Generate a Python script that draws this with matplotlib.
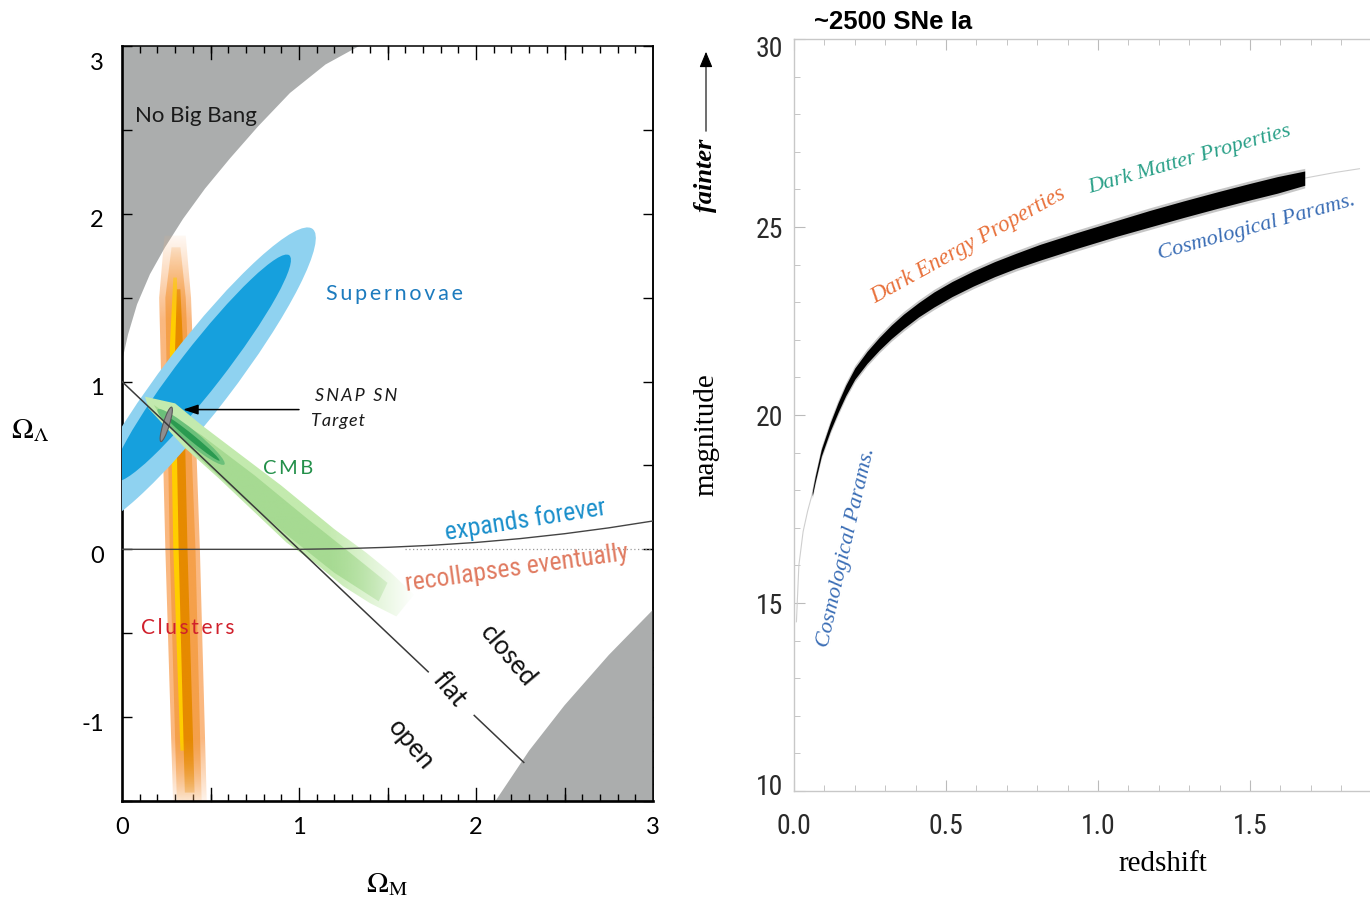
import numpy as np
import matplotlib
matplotlib.use("Agg")
import matplotlib.pyplot as plt
from matplotlib.patches import Ellipse, Polygon, FancyArrowPatch
from matplotlib.ticker import MultipleLocator, FixedLocator, FormatStrFormatter
from matplotlib.transforms import ScaledTranslation
from matplotlib import font_manager as fm
from matplotlib.colors import to_rgb

_names = {f.name for f in fm.fontManager.ttflist}
def pick(*c):
    for n in c:
        if n in _names:
            return n
    return "DejaVu Sans"

SANS = pick("Lato", "Open Sans", "Noto Sans")
NARROW = pick("Liberation Sans Narrow", "Roboto Condensed", "Liberation Sans")
ARIAL = pick("Liberation Sans")
SERIF = pick("Liberation Serif", "DejaVu Serif")
NS = 1.0 if NARROW in ("Liberation Sans Narrow", "Roboto Condensed") else 0.84
plt.rcParams["mathtext.fontset"] = "stix"

# ------------------------------------------------------------------ data
# Left panel (Omega_M, Omega_Lambda plane)
nobigbang_om = [0.00, 0.034, 0.085, 0.158, 0.243, 0.345, 0.469, 0.61, 0.768, 0.949, 1.15, 1.34]
nobigbang_ol = [1.12, 1.28, 1.46, 1.64, 1.80, 1.97, 2.15, 2.33, 2.52, 2.72, 2.89, 3.00]
bounce_om = [2.11, 2.30, 2.50, 2.75, 3.00]
bounce_ol = [-1.50, -1.20, -0.93, -0.63, -0.36]
flat_om_a, flat_ol_a = [0.00, 1.73], [1.00, -0.73]
flat_om_b, flat_ol_b = [1.99, 2.27], [-0.99, -1.27]
expand_om = [0.0, 1.0, 1.25, 1.5, 1.75, 2.0, 2.25, 2.5, 2.75, 3.0]
expand_ol = [0.0, 0.0, 0.004, 0.012, 0.024, 0.041, 0.064, 0.093, 0.128, 0.169]

# Clusters band polygons (Omega_M, Omega_Lambda)
cl_outer_om = [0.29, 0.245, 0.21, 0.24, 0.36, 0.39, 0.44, 0.48]
cl_outer_ol = [-1.55, 0.0, 1.5, 1.87, 1.87, 1.5, 0.0, -1.55]
cl_mid_om = [0.31, 0.27, 0.245, 0.28, 0.33, 0.36, 0.415, 0.45]
cl_mid_ol = [-1.5, 0.0, 1.5, 1.8, 1.8, 1.5, 0.0, -1.5]
cl_yel_om = [0.33, 0.29, 0.27, 0.29, 0.31, 0.32, 0.335, 0.36]
cl_yel_ol = [-1.2, 0.0, 1.2, 1.62, 1.62, 1.2, 0.0, -1.2]
cl_core_om = [0.355, 0.32, 0.30, 0.31, 0.33, 0.345, 0.37, 0.41]
cl_core_ol = [-1.45, 0.0, 1.2, 1.55, 1.55, 1.2, 0.0, -1.45]

# Supernovae confidence ellipses: (centre_om, centre_ol, width, height, angle)
sn_outer = (0.43, 1.02, 2.20, 0.40, 54.1)
sn_inner = (0.45, 1.08, 1.67, 0.25, 53.7)

# CMB band
cmb_outer_om = [0.13, 0.30, 0.45, 0.60, 0.75, 0.90, 1.05, 1.20, 1.38, 1.52, 1.65,
                1.55, 1.40, 1.25, 1.10, 0.93, 0.75, 0.55, 0.35, 0.15]
cmb_outer_ol = [0.91, 0.87, 0.74, 0.62, 0.50, 0.38, 0.25, 0.12, -0.02, -0.14, -0.27,
                -0.40, -0.32, -0.22, -0.09, 0.04, 0.22, 0.42, 0.61, 0.84]
cmb_mid_om = [0.18, 0.45, 0.75, 1.05, 1.30, 1.50, 1.45, 1.20, 0.95, 0.70, 0.45, 0.22]
cmb_mid_ol = [0.86, 0.68, 0.44, 0.18, -0.03, -0.20, -0.31, -0.14, 0.07, 0.29, 0.53, 0.79]
cmb_inner = (0.40, 0.66, 0.40, 0.035, -41.0)
cmb_inner2 = (0.39, 0.67, 0.50, 0.08, -41.0)

snap = (0.25, 0.745, 0.214, 0.036, 73.7)
snap_arrow_start = (1.00, 0.833)
snap_arrow_end = (0.345, 0.833)

# Right panel (Hubble diagram)
z_band = [0.06, 0.07, 0.09, 0.12, 0.145, 0.17, 0.20, 0.24, 0.28, 0.32, 0.36, 0.41, 0.46,
          0.52, 0.59, 0.66, 0.73, 0.81, 0.93, 1.06, 1.17, 1.28, 1.39, 1.50, 1.59, 1.68]
m_band = [17.9, 18.3, 19.0, 19.7, 20.2, 20.65, 21.1, 21.53, 21.89, 22.21, 22.49, 22.8, 23.07,
          23.35, 23.63, 23.88, 24.1, 24.33, 24.64, 24.96, 25.22, 25.47, 25.71, 25.94, 26.12, 26.3]
hw_band = [0.05, 0.07, 0.09, 0.11, 0.13, 0.14, 0.15, 0.16, 0.17, 0.18, 0.19, 0.19, 0.20,
           0.20, 0.20, 0.20, 0.20, 0.21, 0.21, 0.21, 0.22, 0.22, 0.22, 0.22, 0.22, 0.19]
z_model_lo = [0.008, 0.016, 0.03, 0.045, 0.06]
m_model_lo = [14.5, 16.0, 16.9, 17.45, 17.9]
z_model_hi = [1.68, 1.78, 1.86]
m_model_hi = [26.3, 26.45, 26.55]

left_xticks = [0, 1, 2, 3]
left_yticks = [-1, 0, 1, 2, 3]
right_xticks = [0.0, 0.5, 1.0, 1.5]
right_yticks = [10, 15, 20, 25, 30]

# ------------------------------------------------------------------ figure
W, H = 1370, 903
fig = plt.figure(figsize=(W / 100, H / 100), dpi=100)
fig.patch.set_facecolor("white")

def px_axes(x0, y_top, x1, y_bot):
    return fig.add_axes([x0 / W, 1 - y_bot / H, (x1 - x0) / W, (y_bot - y_top) / H])

def shift(artist, dx_px, dy_px):
    artist.set_transform(artist.get_transform() +
                         ScaledTranslation(dx_px / 100, dy_px / 100, fig.dpi_scale_trans))

ax = px_axes(122, 47, 653, 802)
ax.set_xlim(0, 3)
ax.set_ylim(-1.5, 3)

GRAY = "#ABADAD"
ax.fill(nobigbang_om + [0.0], nobigbang_ol + [3.0], color=GRAY, lw=0, zorder=1)
ax.fill(bounce_om + [3.0], bounce_ol + [-1.5], color=GRAY, lw=0, zorder=1)


def grad_poly(xs, ys, color, alpha_fn, extent, zorder):
    poly = Polygon(np.column_stack([xs, ys]), closed=True, facecolor="none",
                   edgecolor="none", transform=ax.transData)
    ax.add_patch(poly)
    nx, ny = 200, 300
    gx = np.linspace(extent[0], extent[1], nx)
    gy = np.linspace(extent[2], extent[3], ny)
    X, Y = np.meshgrid(gx, gy)
    rgba = np.zeros((ny, nx, 4))
    rgba[..., :3] = to_rgb(color)
    rgba[..., 3] = alpha_fn(X, Y)
    im = ax.imshow(rgba, extent=extent, origin="lower", aspect="auto",
                   interpolation="bilinear", zorder=zorder)
    im.set_clip_path(poly)


def cl_alpha(X, Y):
    return np.clip((1.92 - Y) / 0.55, 0, 1) * np.clip((Y + 1.58) / 0.45, 0, 1)

ext_cl = (0.1, 0.6, -1.6, 2.0)
grad_poly(cl_outer_om, cl_outer_ol, "#FAB880", cl_alpha, ext_cl, 2)
grad_poly(cl_mid_om, cl_mid_ol, "#F5A04A", cl_alpha, ext_cl, 2.1)
grad_poly(cl_yel_om, cl_yel_ol, "#FFCE00", cl_alpha, ext_cl, 2.2)
grad_poly(cl_core_om, cl_core_ol, "#E68A00", cl_alpha, ext_cl, 2.3)

for (cx, cy, w, h, a), col, z in [(sn_outer, "#8FD2F0", 3), (sn_inner, "#16A0DD", 3.1)]:
    ax.add_patch(Ellipse((cx, cy), w, h, angle=a, facecolor=col, edgecolor="none", zorder=z))


def cmb_alpha(X, Y):
    return np.clip((1.66 - X) / 0.50, 0, 1)

ext_cmb = (0.0, 1.9, -0.8, 1.1)
grad_poly(cmb_outer_om, cmb_outer_ol, "#C3EAAE", cmb_alpha, ext_cmb, 4)
grad_poly(cmb_mid_om, cmb_mid_ol, "#A6DA92", cmb_alpha, ext_cmb, 4.1)
for (cx, cy, w, h, a), col, z in [(cmb_inner2, "#6CC07A", 4.2), (cmb_inner, "#2A9A50", 4.3)]:
    ax.add_patch(Ellipse((cx, cy), w, h, angle=a, facecolor=col, edgecolor="none", zorder=z))

cx, cy, w, h, a = snap
ax.add_patch(Ellipse((cx, cy), w, h, angle=a, facecolor="#8E8E8E", edgecolor="#5A5A5A",
                     lw=0.8, zorder=5))

ax.plot(flat_om_a, flat_ol_a, color="#3A3A3A", lw=1.1, zorder=6)
ax.plot(flat_om_b, flat_ol_b, color="#3A3A3A", lw=1.1, zorder=6)
ax.plot(expand_om, expand_ol, color="#444444", lw=1.0, zorder=6)
ax.plot([1.6, 3.0], [0.0, 0.0], color="#9A9A9A", lw=0.9, ls=(0, (1, 2)), zorder=5)

ax.annotate("", xy=snap_arrow_end, xytext=snap_arrow_start,
            arrowprops=dict(arrowstyle="-|>,head_length=0.9,head_width=0.3",
                            color="black", lw=1.1, shrinkA=0, shrinkB=0), zorder=7)

TS = "\u2009"
def spaced(s, sep=TS):
    return sep.join(s)

fam = [SANS, "DejaVu Sans"]
ax.text(0.42, 2.59, "No Big Bang", fontsize=16, family=fam, color="#1a1a1a",
        ha="center", va="center", zorder=8)
ax.text(1.54, 1.53, spaced("Supernovae"), fontsize=15.5, family=fam, color="#1C7BBE",
        ha="center", va="center", zorder=8)
ax.text(1.32, 0.92, spaced("SNAP SN"), fontsize=13, family=fam, style="italic",
        color="#1a1a1a", ha="center", va="center", zorder=8)
ax.text(1.22, 0.77, spaced("Target", "\u200a"), fontsize=13, family=fam, style="italic",
        color="#1a1a1a", ha="center", va="center", zorder=8)
ax.text(0.94, 0.49, spaced("CMB"), fontsize=14.5, family=fam, color="#23904A",
        ha="center", va="center", zorder=8)
ax.text(0.37, -0.46, spaced("Clusters"), fontsize=15, family=fam, color="#D0202C",
        ha="center", va="center", zorder=8)
ax.text(2.28, 0.18, "expands forever", fontsize=18.5 * NS, family=[NARROW, "DejaVu Sans"],
        color="#1A8FCB", ha="center", va="center", rotation=9, zorder=8)
ax.text(2.23, -0.11, "recollapses eventually", fontsize=18.5 * NS, family=[NARROW, "DejaVu Sans"],
        color="#E07A60", ha="center", va="center", rotation=8, zorder=8)
for txt, x, y in [("closed", 2.18, -0.63), ("flat", 1.85, -0.83), ("open", 1.63, -1.16)]:
    ax.text(x, y, txt, fontsize=18.5, family=fam, color="#111111", ha="center", va="center",
            rotation=-50, rotation_mode="anchor", zorder=8)

# left axes styling
for s in ["left", "bottom"]:
    ax.spines[s].set_linewidth(1.9)
for s in ["top", "right"]:
    ax.spines[s].set_linewidth(1.1)
ax.xaxis.set_major_locator(FixedLocator(left_xticks))
ax.xaxis.set_minor_locator(MultipleLocator(0.1))
ax.yaxis.set_major_locator(FixedLocator(left_yticks))
ax.yaxis.set_minor_locator(MultipleLocator(0.5))
ax.tick_params(axis="x", which="both", direction="in", top=True, bottom=True)
ax.tick_params(axis="x", which="major", length=0, pad=11)
ax.tick_params(axis="x", which="minor", length=5, width=1.0)
ax.tick_params(axis="y", which="major", direction="in", length=7, width=1.0, pad=13, right=False)
ax.tick_params(axis="y", which="minor", direction="in", length=7, width=1.0, right=False)
for xv in [0.5, 1.0, 1.5, 2.0, 2.5]:
    ax.plot([xv, xv], [-1.5, -1.5 + 0.075], color="black", lw=1.0, zorder=9, clip_on=False)
    ax.plot([xv, xv], [3.0, 3.0 - 0.075], color="black", lw=1.0, zorder=9, clip_on=False)
sec = ax.secondary_yaxis("right")
sec.yaxis.set_major_locator(MultipleLocator(0.5))
sec.yaxis.set_minor_locator(FixedLocator([-1.4, -1.3, -1.2, -1.1, -0.9, -0.8, -0.7, -0.6]))
sec.tick_params(which="major", direction="in", length=7, width=1.0, labelright=False)
sec.tick_params(which="minor", direction="in", length=4, width=1.0)
sec.spines["right"].set_linewidth(1.1)
ax.set_xticklabels([str(v) for v in left_xticks])
ax.set_yticklabels([str(v) for v in left_yticks])
for lab in ax.get_xticklabels() + ax.get_yticklabels():
    lab.set_fontfamily(fam)
    lab.set_fontsize(17)
lyl = ax.get_yticklabels()
for lab in lyl[:-1]:
    shift(lab, 0, -4)
shift(lyl[-1], 0, -15)

fig.text(30 / W, 1 - 430 / H, r"$\Omega_\Lambda$", fontsize=21, ha="center", va="center")
fig.text(387 / W, 1 - 884 / H, r"$\Omega_{\rm M}$", fontsize=21, ha="center", va="center")

# ------------------------------------------------------------------ right panel
ax2 = px_axes(794, 40, 1370, 792)
ax2.set_xlim(0, 576 / 304)
ax2.set_ylim(10, 30)

zb = np.array(z_band)
mb = np.array(m_band)
hb = np.array(hw_band)
ax2.plot(z_model_lo + z_band + z_model_hi[1:], m_model_lo + m_band + m_model_hi[1:],
         color="#CFCFCF", lw=0.8, zorder=2)
ax2.fill_between(zb, mb - hb - 0.07, mb + hb + 0.07, color="#444444", alpha=0.3, lw=0, zorder=3)
ax2.fill_between(zb, mb - hb, mb + hb, color="black", lw=0, zorder=4)

sfam = [SERIF, "DejaVu Serif"]
ax2.text(0.572, 24.54, "Dark Energy Properties", fontsize=16.5, family=sfam, style="italic",
         color="#E8703A", rotation=29, ha="center", va="center", rotation_mode="anchor")
ax2.text(1.303, 26.8, "Dark Matter Properties", fontsize=16, family=sfam, style="italic",
         color="#2AA088", rotation=16, ha="center", va="center", rotation_mode="anchor")
ax2.text(1.523, 25.02, "Cosmological Params.", fontsize=16, family=sfam, style="italic",
         color="#3A6DB5", rotation=15.5, ha="center", va="center", rotation_mode="anchor")
ax2.text(0.174, 16.49, "Cosmological Params.", fontsize=16, family=sfam, style="italic",
         color="#3A6DB5", rotation=77, ha="center", va="center", rotation_mode="anchor")

for s in ["left", "bottom", "top"]:
    ax2.spines[s].set_color("#C8C8C8")
    ax2.spines[s].set_linewidth(1.0)
ax2.spines["right"].set_visible(False)
ax2.xaxis.set_major_locator(FixedLocator(right_xticks))
ax2.xaxis.set_minor_locator(MultipleLocator(0.1))
ax2.yaxis.set_major_locator(FixedLocator(right_yticks))
ax2.yaxis.set_minor_locator(MultipleLocator(1))
ax2.xaxis.set_major_formatter(FormatStrFormatter("%.1f"))
ax2.tick_params(which="both", direction="in", color="#BBBBBB", top=True, right=False)
ax2.tick_params(axis="x", which="major", length=8, pad=15, labelsize=20 * NS, labelcolor="#2a2a2a")
ax2.tick_params(axis="y", which="major", length=8, pad=8, labelsize=20 * NS, labelcolor="#2a2a2a")
ax2.tick_params(which="minor", length=4)
for lab in ax2.get_xticklabels() + ax2.get_yticklabels():
    lab.set_fontfamily([NARROW, "DejaVu Sans"])
ylabs = ax2.get_yticklabels()
shift(ylabs[0], 0, 7)
shift(ylabs[-1], 0, -7)

fig.text(893 / W, 1 - 22 / H, "~2500 SNe Ia", fontsize=18.5, family=[ARIAL, "DejaVu Sans"],
         weight="bold", ha="center", va="center")
fig.text(706 / W, 1 - 435 / H, "magnitude", fontsize=21, family=sfam, rotation=90,
         ha="center", va="center")
fig.text(1163 / W, 1 - 864 / H, "redshift", fontsize=21, family=sfam, ha="center", va="center")
fig.text(706 / W, 1 - 175 / H, "fainter", fontsize=19, family=sfam, weight="bold",
         style="italic", rotation=90, ha="center", va="center")
fig.add_artist(FancyArrowPatch((706 / W, 1 - 135 / H), (706 / W, 1 - 50 / H),
                               transform=fig.transFigure,
                               arrowstyle="-|>,head_length=6,head_width=2.5",
                               color="black", lw=0.8, mutation_scale=1.6))

fig.savefig("out.png", dpi=100, facecolor="white")
